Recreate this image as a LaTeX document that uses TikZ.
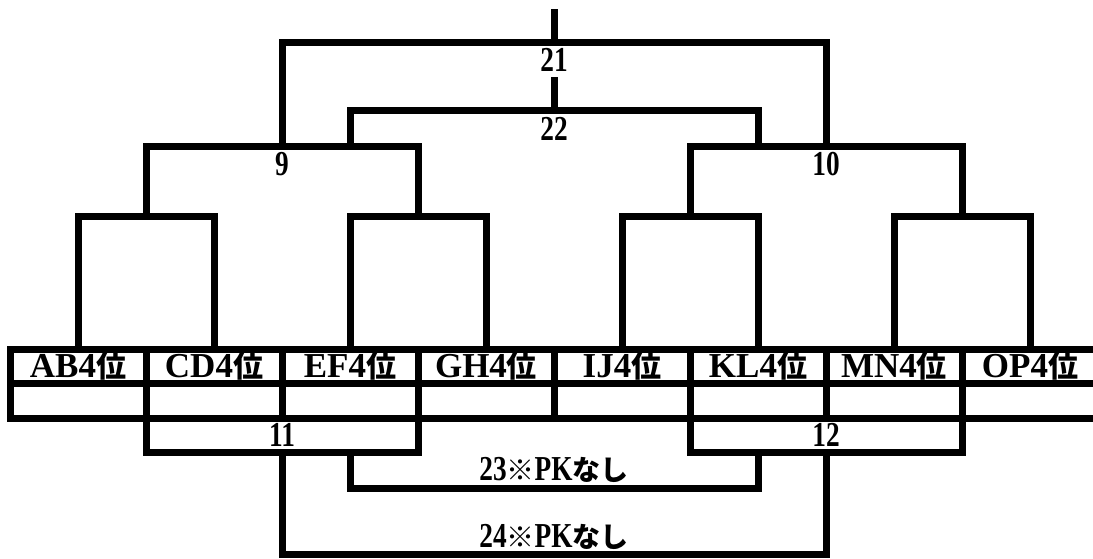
\documentclass[tikz,border=0pt]{standalone}
\usepackage{fontspec}
\setmainfont{Liberation Serif}
\newfontfamily\jp{Noto Sans CJK JP}
\newfontfamily\numfont{Liberation Serif}[FakeStretch=0.78]
\newcommand{\rankcell}[1]{\textbf{#1}\textbf{4}{\fontsize{30}{30}\selectfont\jp\bfseries 位}}
\newcommand{\pkless}[1]{#1{\fontsize{28}{28}\selectfont\jp\bfseries ※}PK{\fontsize{28}{28}\selectfont\jp\bfseries なし}}
\tikzset{
  cell/.style={minimum width=136pt, minimum height=34pt, text height=26pt, text depth=3pt, inner sep=0pt, font=\fontsize{35}{35}\selectfont},
  num/.style={inner sep=0pt, font=\fontsize{35}{35}\selectfont\numfont\bfseries}
}

\begin{document}
\begin{tikzpicture}[x=1pt, y=-1pt, line width=7pt]
	\useasboundingbox (0,0) rectangle (1093,559);
	\clip (0,0) rectangle (1093,559);
	% Tabelle der Gruppenvierten
	\draw (1100,349) -| (10,418) -- (1100,418);
	\draw (10,383.5) -- (1100,383.5);
	\foreach \i in {1,...,7} {
		\draw (10+136*\i,349) -- (10+136*\i,418) coordinate (e\i);
	}
	\foreach \t [count=\i] in {AB,CD,EF,GH,IJ,KL,MN,OP} {
		\node[cell] (t\i) at (-58+136*\i,366) {\rankcell{\t}};
	}
	% erste Runde oben
	\coordinate (q1) at (146,216);
	\coordinate (q2) at (418,216);
	\coordinate (q3) at (690,216);
	\coordinate (q4) at (962,216);
	\draw (t1.north) |- (q1) -| (t2.north);
	\draw (t3.north) |- (q2) -| (t4.north);
	\draw (t5.north) |- (q3) -| (t6.north);
	\draw (t7.north) |- (q4) -| (t8.north);
	% Spiele 9 und 10
	\coordinate (w9) at (282,147);
	\coordinate (w10) at (826,147);
	\draw (q1) |- (w9) -| (q2);
	\draw (q3) |- (w10) -| (q4);
	\node[num] (n9) at (282,164) {9};
	\node[num] (n10) at (826,164) {10};
	% Spiele 21 und 22
	\coordinate (f21) at (554,42.5);
	\coordinate (top) at (554,9);
	\draw (w9) |- (f21) -| (w10);
	\draw (f21) -- (top);
	\node[num] (n21) at (554,60) {21};
	\coordinate (l9) at (350,147);
	\coordinate (l10) at (758,147);
	\coordinate (f22) at (554,111);
	\coordinate (s22) at (554,77);
	\draw (l9) |- (f22) -| (l10);
	\draw (f22) -- (s22);
	\node[num] (n22) at (554,129) {22};
	% Spiele 11 und 12 unten
	\coordinate (b11) at (282,452);
	\coordinate (b12) at (826,452);
	\draw (e1) |- (b11) -| (e3);
	\draw (e5) |- (b12) -| (e7);
	\node[num] (n11) at (282,435) {11};
	\node[num] (n12) at (826,435) {12};
	% Spiele 23 und 24
	\coordinate (l11) at (350,452);
	\coordinate (l12) at (758,452);
	\coordinate (f23) at (554,488);
	\coordinate (f24) at (554,554);
	\draw (l11) |- (f23) -| (l12);
	\draw (b11) |- (f24) -| (b12);
	\node[num] (n23) at (554,470) {\pkless{23}};
	\node[num] (n24) at (554,537) {\pkless{24}};
\end{tikzpicture}
\end{document}
